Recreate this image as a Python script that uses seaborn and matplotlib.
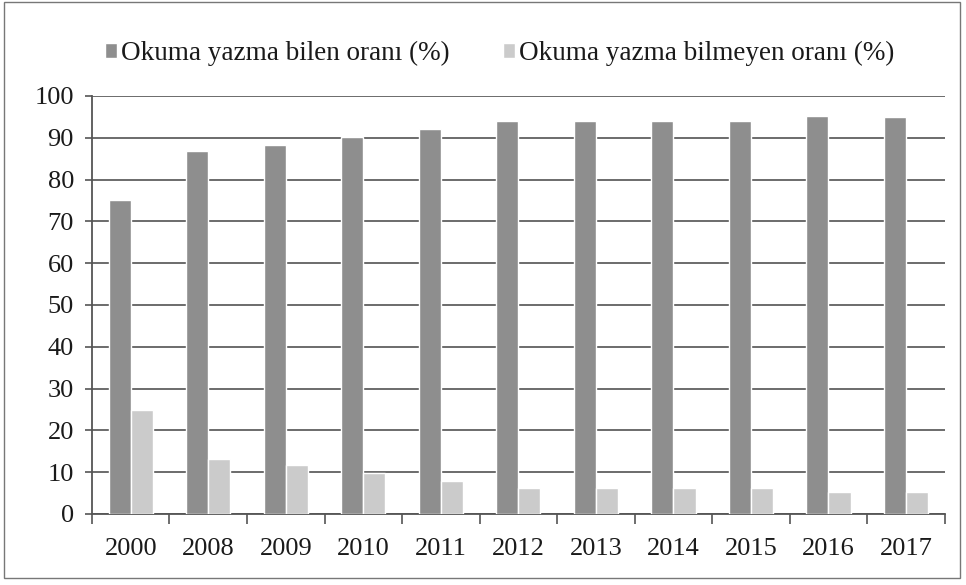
import matplotlib
matplotlib.use("Agg")
import matplotlib.pyplot as plt
import seaborn as sns
import pandas as pd
from matplotlib.patches import Rectangle

years = ["2000", "2008", "2009", "2010", "2011", "2012", "2013", "2014", "2015", "2016", "2017"]
literate = [75.1, 86.9, 88.2, 90.2, 92.0, 94.1, 94.1, 94.0, 94.0, 95.2, 95.0]
illiterate = [24.9, 13.1, 11.8, 9.8, 8.0, 6.1, 6.3, 6.2, 6.3, 5.2, 5.2]
series_names = ["Okuma yazma bilen oranı (%)", "Okuma yazma bilmeyen oranı (%)"]
y_ticks = [0, 10, 20, 30, 40, 50, 60, 70, 80, 90, 100]

df = pd.DataFrame({
    "Yıl": years * 2,
    "Oran": literate + illiterate,
    "Seri": [series_names[0]] * len(years) + [series_names[1]] * len(years),
})

sns.set_style("white")
plt.rcParams["font.family"] = ["Liberation Serif", "DejaVu Serif"]

fig = plt.figure(figsize=(9.66, 5.85), dpi=100)
ax = fig.add_axes([0.0952, 0.1214, 0.8828, 0.7146])

sns.barplot(data=df, x="Yıl", y="Oran", hue="Seri", order=years,
            hue_order=series_names, palette=["#8e8e8e", "#cbcbcb"],
            width=0.57, saturation=1, ax=ax, legend=True, zorder=3)

ax.set_ylim(0, 100)
ax.set_yticks(y_ticks)
ax.set_xlim(-0.5, len(years) - 0.5)
ax.yaxis.grid(True, color="#606060", linewidth=1.3, zorder=0)
ax.set_axisbelow(True)
ax.set_xlabel("")
ax.set_ylabel("")

for side in ["top", "right"]:
    ax.spines[side].set_visible(False)
for side in ["left", "bottom"]:
    ax.spines[side].set_color("#555555")
    ax.spines[side].set_linewidth(1.3)

ax.tick_params(axis="y", which="major", left=True, length=5, width=1.2,
               color="#555555", labelsize=19, labelcolor="#1a1a1a", pad=8)
ax.tick_params(axis="x", which="major", bottom=False, labelsize=19,
               labelcolor="#1a1a1a", pad=14)
ax.set_xticks([i + 0.5 for i in range(-1, len(years))], minor=True)
ax.tick_params(axis="x", which="minor", bottom=True, length=7, width=1.2,
               color="#555555")

handles, labels = ax.get_legend_handles_labels()
leg = ax.legend(handles, labels, loc="lower center", bbox_to_anchor=(0.478, 1.045),
                ncol=2, frameon=False, fontsize=19.5, handlelength=0.45,
                handleheight=0.45, handletextpad=0.15, columnspacing=1.95,
                borderaxespad=0)
for t in leg.get_texts():
    t.set_color("#1a1a1a")

fig.patches.append(Rectangle((0.004, 0.012), 0.99, 0.985, transform=fig.transFigure,
                             fill=False, edgecolor="#777777", linewidth=1.0))

fig.savefig("out.png", dpi=100)
